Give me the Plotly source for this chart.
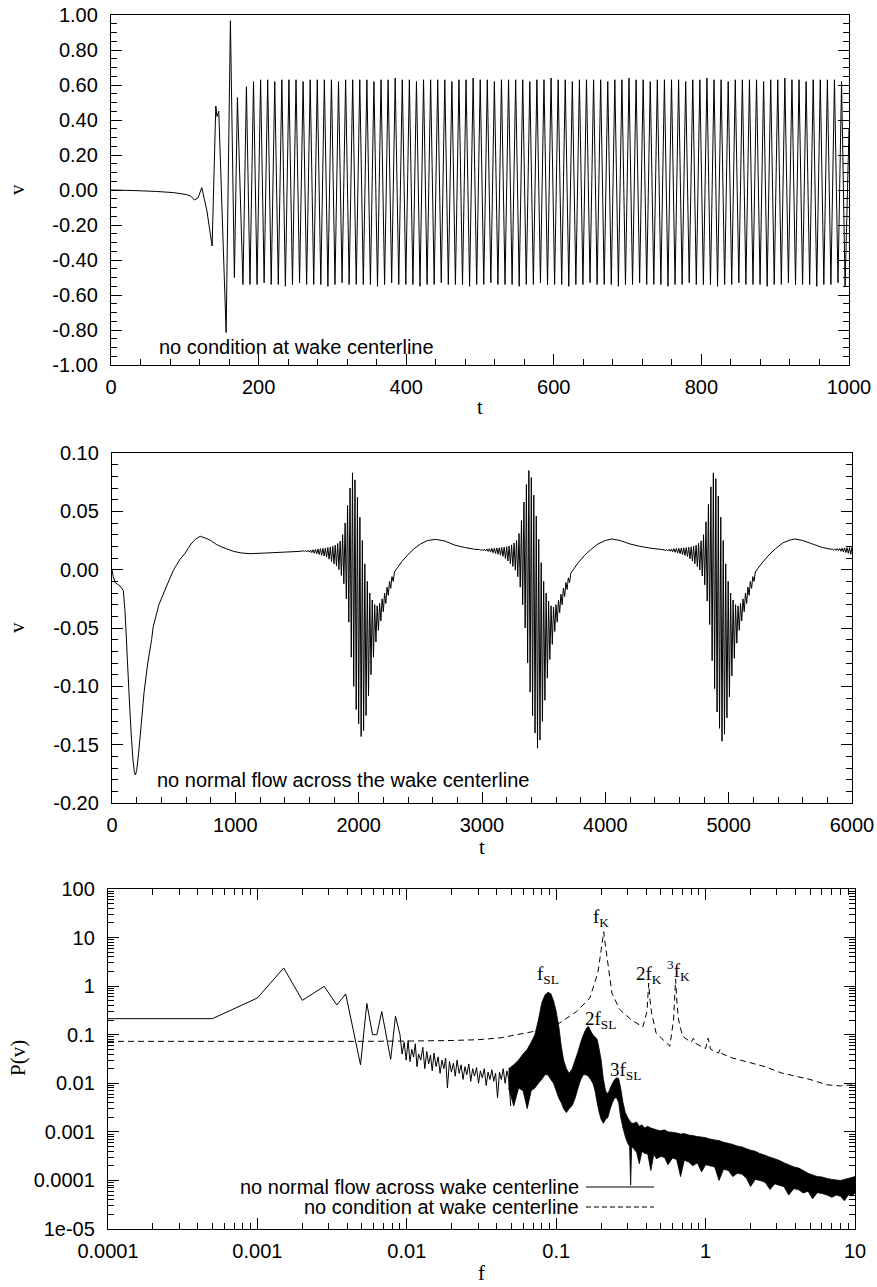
import plotly.graph_objects as go
import math

W, H = 877, 1287
SANS = "Liberation Sans, Arial, Helvetica, sans-serif"
SERIF = "Liberation Serif, Times New Roman, serif"

# ---------------- top panel: no condition at wake centerline ----------------
top_early_t = [0, 30, 60, 85, 102, 108, 113, 118, 123, 130, 137, 142, 143.6, 146, 156, 161.8, 167.2, 171.3, 178.8]
top_early_v = [0.0, -0.003, -0.008, -0.015, -0.026, -0.035, -0.057, -0.045, 0.014, -0.12, -0.32, 0.48, 0.42, 0.45,
               -0.815, 0.967, -0.50, 0.528, -0.54]
top_peak_t = [183.5, 193.1, 202.7, 212.3, 221.9, 231.5, 241.1, 250.7, 260.3, 269.9, 279.5, 289.1, 298.7, 308.3,
              317.9, 327.5, 337.1, 346.7, 356.3, 365.9, 375.5, 385.1, 394.7, 404.3, 413.9, 423.5, 433.1, 442.7,
              452.3, 461.9, 471.5, 481.1, 490.7, 500.3, 509.9, 519.5, 529.1, 538.7, 548.3, 557.9, 567.5, 577.1,
              586.7, 596.3, 605.9, 615.5, 625.1, 634.7, 644.3, 653.9, 663.5, 673.1, 682.7, 692.3, 701.9, 711.5,
              721.1, 730.7, 740.3, 749.9, 759.5, 769.1, 778.7, 788.3, 797.9, 807.5, 817.1, 826.7, 836.3, 845.9,
              855.5, 865.1, 874.7, 884.3, 893.9, 903.5, 913.1, 922.7, 932.3, 941.9, 951.5, 961.1, 970.7, 980.3,
              989.9]
top_peak_v = [0.59, 0.62, 0.63, 0.63, 0.62, 0.63, 0.63, 0.63, 0.62, 0.63, 0.63, 0.63, 0.63, 0.62, 0.63, 0.63,
              0.63, 0.63, 0.62, 0.63, 0.63, 0.64, 0.63, 0.63, 0.62, 0.63, 0.63, 0.63, 0.63, 0.62, 0.63, 0.63,
              0.64, 0.63, 0.63, 0.62, 0.63, 0.63, 0.63, 0.63, 0.62, 0.63, 0.63, 0.64, 0.63, 0.63, 0.62, 0.63,
              0.63, 0.63, 0.63, 0.62, 0.63, 0.63, 0.64, 0.63, 0.63, 0.62, 0.63, 0.63, 0.63, 0.63, 0.62, 0.63,
              0.63, 0.64, 0.63, 0.63, 0.62, 0.63, 0.63, 0.63, 0.63, 0.62, 0.63, 0.63, 0.64, 0.63, 0.63, 0.62,
              0.63, 0.63, 0.63, 0.63, 0.62]
top_trough_t = [188.3, 197.9, 207.5, 217.1, 226.7, 236.3, 245.9, 255.5, 265.1, 274.7, 284.3, 293.9, 303.5, 313.1,
                322.7, 332.3, 341.9, 351.5, 361.1, 370.7, 380.3, 389.9, 399.5, 409.1, 418.7, 428.3, 437.9, 447.5,
                457.1, 466.7, 476.3, 485.9, 495.5, 505.1, 514.7, 524.3, 533.9, 543.5, 553.1, 562.7, 572.3, 581.9,
                591.5, 601.1, 610.7, 620.3, 629.9, 639.5, 649.1, 658.7, 668.3, 677.9, 687.5, 697.1, 706.7, 716.3,
                725.9, 735.5, 745.1, 754.7, 764.3, 773.9, 783.5, 793.1, 802.7, 812.3, 821.9, 831.5, 841.1, 850.7,
                860.3, 869.9, 879.5, 889.1, 898.7, 908.3, 917.9, 927.5, 937.1, 946.7, 956.3, 965.9, 975.5, 985.1,
                994.7]
top_trough_v = [-0.54, -0.54, -0.53, -0.54, -0.54, -0.55, -0.54, -0.53, -0.54, -0.54, -0.54, -0.55, -0.54, -0.53,
                -0.54, -0.54, -0.54, -0.54, -0.55, -0.54, -0.53, -0.54, -0.54, -0.54, -0.55, -0.54, -0.54, -0.53,
                -0.54, -0.54, -0.54, -0.55, -0.54, -0.54, -0.53, -0.54, -0.54, -0.54, -0.55, -0.54, -0.54, -0.53,
                -0.54, -0.54, -0.54, -0.55, -0.54, -0.54, -0.53, -0.54, -0.54, -0.54, -0.55, -0.54, -0.54, -0.53,
                -0.54, -0.54, -0.54, -0.55, -0.54, -0.54, -0.53, -0.54, -0.54, -0.54, -0.55, -0.54, -0.54, -0.53,
                -0.54, -0.54, -0.54, -0.55, -0.54, -0.54, -0.53, -0.54, -0.54, -0.54, -0.55, -0.54, -0.54, -0.53,
                -0.55]
top_end_t = [1000]
top_end_v = [0.35]

top_pts = sorted(list(zip(top_early_t, top_early_v)) + list(zip(top_peak_t, top_peak_v))
                 + list(zip(top_trough_t, top_trough_v)) + list(zip(top_end_t, top_end_v)))
top_t = [p[0] for p in top_pts]
top_v = [p[1] for p in top_pts]

# ---------------- middle panel: no normal flow across the wake centerline ----------------
mid_a_t = [0, 10, 25, 65, 92, 105, 112, 117, 125, 140, 155, 170, 182, 190, 200, 215, 235, 260, 290, 321, 334,
           380, 443, 500, 553, 594, 640, 680, 716, 760, 800, 850, 900, 985, 1050, 1120, 1255, 1390, 1525]
mid_a_v = [0.0, -0.006, -0.011, -0.014, -0.018, -0.035, -0.049, -0.06, -0.078, -0.11, -0.14, -0.163, -0.174,
           -0.176, -0.172, -0.158, -0.135, -0.105, -0.08, -0.06, -0.049, -0.03, -0.014, 0.0, 0.009, 0.0143, 0.022,
           0.0265, 0.0286, 0.027, 0.025, 0.0214, 0.019, 0.0157, 0.0143, 0.0137, 0.0143, 0.015, 0.0157]

mid_step = 10  # sample spacing of the burst extrema
mid_b1_t0 = 1550
mid_b1_v = [0.0162, 0.0155, 0.0164, 0.0153, 0.0166, 0.0150, 0.0168, 0.0146, 0.0171, 0.0141, 0.0174, 0.0136,
            0.0177, 0.0130, 0.0180, 0.0124, 0.0183, 0.0117, 0.0186, 0.0108,
            0.0190, 0.0090, 0.0194, 0.0070, 0.0200, 0.0050, 0.0210, 0.0030, 0.0225, 0.0000, 0.0245, -0.0050,
            0.030, -0.012, 0.040, -0.025, 0.055, -0.045, 0.070, -0.075,
            0.083, -0.100, 0.077, -0.120, 0.062, -0.132, 0.045, -0.143, 0.025, -0.138, 0.005, -0.125, -0.010,
            -0.108, -0.020, -0.090, -0.026, -0.075, -0.030, -0.062, -0.031, -0.052, -0.029, -0.044, -0.025,
            -0.036, -0.020, -0.029, -0.015, -0.022, -0.010, -0.016, -0.006, -0.010, -0.002]
mid_b_t = [2310, 2350, 2400, 2450, 2500, 2560, 2625, 2700, 2780, 2860, 2940]
mid_b_v = [0.001, 0.007, 0.013, 0.018, 0.022, 0.025, 0.026, 0.0245, 0.021, 0.019, 0.0175]
mid_b2_t0 = 2980
mid_b2_v = [0.0172, 0.0166, 0.0174, 0.0163, 0.0176, 0.0160, 0.0178, 0.0156, 0.0180, 0.0151, 0.0182, 0.0145,
            0.0184, 0.0139, 0.0186, 0.0132, 0.0188, 0.0124, 0.0190, 0.0114,
            0.0193, 0.0095, 0.0197, 0.0075, 0.0203, 0.0052, 0.0212, 0.0028, 0.0228, -0.0005, 0.0250, -0.0060,
            0.031, -0.015, 0.042, -0.030, 0.058, -0.050, 0.073, -0.080,
            0.085, -0.105, 0.079, -0.125, 0.064, -0.140, 0.046, -0.153, 0.026, -0.146, 0.006, -0.130, -0.010,
            -0.112, -0.020, -0.093, -0.027, -0.077, -0.031, -0.064, -0.032, -0.053, -0.030, -0.045, -0.026,
            -0.037, -0.021, -0.030, -0.016, -0.023, -0.011, -0.017, -0.007, -0.011, -0.003]
mid_c_t = [3740, 3780, 3830, 3880, 3940, 4000, 4052, 4120, 4200, 4280, 4360, 4440]
mid_c_v = [0.0, 0.006, 0.012, 0.017, 0.022, 0.025, 0.0263, 0.025, 0.022, 0.020, 0.0185, 0.0175]
mid_b3_t0 = 4476
mid_b3_v = [0.0170, 0.0164, 0.0172, 0.0161, 0.0175, 0.0158, 0.0177, 0.0154, 0.0179, 0.0149, 0.0181, 0.0143,
            0.0183, 0.0137, 0.0185, 0.0130, 0.0187, 0.0122, 0.0189, 0.0112,
            0.0192, 0.0093, 0.0196, 0.0073, 0.0202, 0.0051, 0.0211, 0.0027, 0.0226, -0.0003, 0.0247, -0.0055,
            0.030, -0.013, 0.041, -0.027, 0.056, -0.047, 0.071, -0.078,
            0.083, -0.102, 0.078, -0.122, 0.063, -0.136, 0.045, -0.147, 0.025, -0.141, 0.005, -0.127, -0.010,
            -0.109, -0.020, -0.091, -0.026, -0.076, -0.030, -0.063, -0.031, -0.052, -0.029, -0.044, -0.025,
            -0.036, -0.020, -0.029, -0.015, -0.022, -0.010, -0.016, -0.006, -0.010, -0.002]
mid_d_t = [5236, 5280, 5330, 5380, 5440, 5500, 5538, 5600, 5680, 5760, 5830]
mid_d_v = [0.001, 0.007, 0.013, 0.018, 0.023, 0.0255, 0.0263, 0.025, 0.022, 0.019, 0.0175]
mid_tail_t0 = 5840
mid_tail_v = [0.0176, 0.0168, 0.0178, 0.0165, 0.0180, 0.0162, 0.0182, 0.0158, 0.0184, 0.0153, 0.0186, 0.0147,
              0.0188, 0.0140, 0.0190, 0.0132, 0.0192]


def sampled(t0, vals):
    return [t0 + i * mid_step for i in range(len(vals))]


mid_t = (mid_a_t + sampled(mid_b1_t0, mid_b1_v) + mid_b_t + sampled(mid_b2_t0, mid_b2_v) + mid_c_t
         + sampled(mid_b3_t0, mid_b3_v) + mid_d_t + sampled(mid_tail_t0, mid_tail_v))
mid_v = mid_a_v + mid_b1_v + mid_b_v + mid_b2_v + mid_c_v + mid_b3_v + mid_d_v + mid_tail_v

# ---------------- bottom panel: spectra ----------------
dash_f = [1e-4, 0.001, 0.005, 0.01, 0.02, 0.03, 0.042, 0.07, 0.1055, 0.137, 0.168, 0.19, 0.2, 0.205, 0.208,
          0.212, 0.217, 0.236, 0.266, 0.32, 0.38, 0.405, 0.416, 0.425, 0.435, 0.466, 0.576, 0.61, 0.63, 0.645,
          0.66, 0.7, 0.8, 0.83, 0.86, 1.0, 1.04, 1.08, 1.22, 1.25, 1.28, 1.52, 2.5, 3.2, 5.0, 6.5, 8.0, 9.0, 10.0]
dash_P = [0.073, 0.073, 0.073, 0.074, 0.076, 0.079, 0.086, 0.116, 0.175, 0.30, 0.57, 1.87, 5.6, 9.5, 13.2,
          8.0, 4.8, 0.72, 0.33, 0.2, 0.144, 0.3, 1.15, 0.5, 0.28, 0.109, 0.058, 0.2, 1.39, 0.4, 0.2, 0.093,
          0.07, 0.085, 0.066, 0.052, 0.085, 0.05, 0.042, 0.05, 0.041, 0.033, 0.022, 0.0164, 0.012, 0.0093,
          0.0088, 0.0092, 0.0092]

sol_f = [1e-4, 0.0005, 0.001, 0.0015, 0.002, 0.0028, 0.0034, 0.0039, 0.0049, 0.0054, 0.0059, 0.0063, 0.0068,
         0.0078, 0.0084,
         0.0090, 0.0093, 0.0096, 0.0099, 0.0102, 0.0105, 0.0108, 0.0111, 0.0114, 0.0117, 0.0120, 0.0124, 0.0128,
         0.0132, 0.0136, 0.0140, 0.0144, 0.0148, 0.0152, 0.0157, 0.0162, 0.0167, 0.0172, 0.0177, 0.0182, 0.0187,
         0.0193, 0.0199, 0.0205, 0.0211, 0.0217, 0.0224, 0.0231, 0.0238, 0.0245, 0.0252, 0.0260, 0.0268, 0.0276,
         0.0284, 0.0293, 0.0302, 0.0311, 0.0320, 0.0330, 0.0340, 0.0350, 0.0360, 0.0371, 0.0382, 0.0393, 0.0405,
         0.0417, 0.0429, 0.0442, 0.0455, 0.0468, 0.0482, 0.0496]
sol_P = [0.214, 0.214, 0.57, 2.37, 0.51, 0.99, 0.41, 0.69, 0.024, 0.44, 0.1, 0.1, 0.30, 0.031, 0.24,
         0.1, 0.04, 0.07, 0.03, 0.075, 0.028, 0.05, 0.035, 0.065, 0.022, 0.04, 0.03, 0.055, 0.02, 0.045, 0.025,
         0.038, 0.018, 0.042, 0.022, 0.035, 0.016, 0.03, 0.02, 0.033, 0.008, 0.028, 0.017, 0.026, 0.014, 0.03,
         0.016, 0.024, 0.012, 0.022, 0.015, 0.025, 0.011, 0.02, 0.014, 0.021, 0.01, 0.018, 0.013, 0.02, 0.009,
         0.017, 0.012, 0.019, 0.011, 0.016, 0.005, 0.017, 0.012, 0.02, 0.01, 0.018, 0.012, 0.0034]

band_f = [0.048, 0.052, 0.056, 0.06, 0.064, 0.068, 0.072, 0.076, 0.08, 0.084, 0.088, 0.092, 0.096, 0.1, 0.104,
          0.108, 0.112, 0.117, 0.122, 0.128, 0.134, 0.14, 0.146, 0.152, 0.158, 0.164, 0.17, 0.176, 0.182, 0.188,
          0.194, 0.2, 0.207, 0.214, 0.222, 0.23, 0.238, 0.246, 0.254, 0.262, 0.27, 0.28, 0.29, 0.3, 0.31, 0.315,
          0.32, 0.33, 0.345, 0.36, 0.375, 0.39, 0.41, 0.43, 0.45, 0.47, 0.5, 0.53, 0.56, 0.6, 0.64, 0.68, 0.72,
          0.77, 0.82, 0.88, 0.94, 1.0, 1.07, 1.15, 1.23, 1.32, 1.42, 1.52, 1.63, 1.75, 1.88, 2.0, 2.15, 2.3, 2.5,
          2.7, 2.9, 3.1, 3.35, 3.6, 3.9, 4.2, 4.5, 4.85, 5.2, 5.6, 6.0, 6.5, 7.0, 7.5, 8.0, 8.5, 9.0, 9.5, 10.0]
band_hi = [0.02, 0.024, 0.03, 0.04, 0.05, 0.07, 0.1, 0.2, 0.45, 0.65, 0.75, 0.7, 0.5, 0.3, 0.15, 0.06, 0.03,
           0.02, 0.016, 0.02, 0.03, 0.045, 0.07, 0.1, 0.13, 0.15, 0.12, 0.1, 0.09, 0.08, 0.05, 0.03, 0.012, 0.007,
           0.006, 0.008, 0.01, 0.012, 0.013, 0.0125, 0.008, 0.004, 0.0025, 0.002, 0.0017, 0.0016, 0.0015,
           0.0015, 0.0016, 0.0013, 0.0014, 0.0012, 0.0013, 0.0012, 0.00115, 0.0011, 0.00105, 0.0011, 0.001,
           0.00098, 0.00095, 0.0009, 0.00092, 0.00086, 0.00084, 0.0008, 0.00078, 0.00076, 0.00071, 0.00068,
           0.00066, 0.00061, 0.00058, 0.00055, 0.00051, 0.00049, 0.00045, 0.00042, 0.0004, 0.00036, 0.00033,
           0.0003, 0.00028, 0.00026, 0.00023, 0.00021, 0.00019, 0.00018, 0.00016, 0.00014, 0.00013, 0.00012,
           0.000118, 0.00011, 0.000105, 0.000102, 0.0001, 0.000105, 0.00011, 0.000115, 0.00012]
band_lo = [0.008, 0.0034, 0.008, 0.007, 0.003, 0.007, 0.008, 0.01, 0.012, 0.015, 0.015, 0.012, 0.01, 0.007,
           0.005, 0.004, 0.003, 0.0025, 0.003, 0.0035, 0.005, 0.008, 0.012, 0.015, 0.015, 0.014, 0.012, 0.01,
           0.007, 0.004, 0.0025, 0.0018, 0.0015, 0.0018, 0.002, 0.003, 0.004, 0.005, 0.005, 0.004, 0.002, 0.0012,
           0.0008, 0.0006, 0.0005, 0.00008, 0.0005,
           0.00045, 0.00038, 0.00022, 0.0004, 0.00036, 0.00035, 0.00016, 0.00034, 0.00028, 0.00031, 0.0003,
           0.00021, 0.00029, 0.00027, 0.00012, 0.00026, 0.00024, 0.0002, 0.00023, 0.00015, 0.00021, 0.0002,
           0.00019, 0.0001, 0.00017, 0.00016, 0.00012, 0.00014, 0.000135, 0.00011, 0.000075, 0.000105, 0.0001,
           0.000092, 0.000065, 0.000085, 0.00008, 0.000074, 0.00005, 0.000068, 0.000064, 0.000055, 0.00006,
           0.000042, 0.000056, 0.000054, 0.00005, 0.000045, 0.00005, 0.000047, 0.000038, 0.00005, 0.000048,
           0.000055]

# ---------------- figure ----------------
fig = go.Figure()
fig.add_trace(go.Scatter(x=top_t, y=top_v, mode="lines", line=dict(color="black", width=1, simplify=False),
                         xaxis="x", yaxis="y", showlegend=False, name="no condition at wake centerline"))
fig.add_trace(go.Scatter(x=mid_t, y=mid_v, mode="lines", line=dict(color="black", width=1, simplify=False),
                         xaxis="x2", yaxis="y2", showlegend=False,
                         name="no normal flow across the wake centerline"))
fig.add_trace(go.Scatter(x=dash_f, y=dash_P, mode="lines",
                         line=dict(color="black", width=1, dash="6px,4px", simplify=False),
                         xaxis="x3", yaxis="y3", showlegend=False, name="no condition at wake centerline"))
fig.add_trace(go.Scatter(x=sol_f, y=sol_P, mode="lines", line=dict(color="black", width=1, simplify=False),
                         xaxis="x3", yaxis="y3", showlegend=False, name="no normal flow across wake centerline"))
fig.add_trace(go.Scatter(x=band_f + band_f[::-1], y=band_hi + band_lo[::-1], mode="lines", fill="toself",
                         fillcolor="black", line=dict(color="black", width=0.8, simplify=False),
                         xaxis="x3", yaxis="y3", showlegend=False, name="no normal flow across wake centerline"))

tickfont = dict(family=SANS, size=20, color="black")
base = dict(showgrid=False, zeroline=False, showline=True, linecolor="black", linewidth=1.3, ticks="inside",
            tickcolor="black", tickwidth=1.2, ticklen=11, tickfont=tickfont, automargin=False)


def fmt2(v):
    return f"{v:.2f}"


top_xt = [0, 200, 400, 600, 800, 1000]
top_yt = [1.0, 0.8, 0.6, 0.4, 0.2, 0.0, -0.2, -0.4, -0.6, -0.8, -1.0]
mid_xt = [0, 1000, 2000, 3000, 4000, 5000, 6000]
mid_yt = [0.10, 0.05, 0.0, -0.05, -0.10, -0.15, -0.20]
bot_xt = [1e-4, 1e-3, 1e-2, 0.1, 1, 10]
bot_xl = ["0.0001", "0.001", "0.01", "0.1", "1", "10"]
bot_yt = [100, 10, 1, 0.1, 0.01, 0.001, 1e-4, 1e-5]
bot_yl = ["100", "10", "1", "0.1", "0.01", "0.001", "0.0001", "1e-05"]
bot_xminor = [m * 10 ** e for e in range(-4, 1) for m in range(2, 10)]
bot_yminor = [m * 10 ** e for e in range(-5, 2) for m in range(2, 10)]

minor_lin = dict(ticks="inside", ticklen=6, tickcolor="black", tickwidth=1, showgrid=False)

fig.update_layout(
    width=W, height=H, margin=dict(l=0, r=0, t=0, b=0, pad=0),
    paper_bgcolor="white", plot_bgcolor="white", showlegend=False,
    xaxis=dict(base, domain=[111 / W, 849 / W], range=[0, 1000], tickmode="array", tickvals=top_xt,
               ticktext=[str(v) for v in top_xt], mirror=True, anchor="y", ticklabelstandoff=4,
               minor=dict(minor_lin, tickmode="linear", tick0=0, dtick=40)),
    yaxis=dict(base, domain=[1 - 365 / H, 1 - 15 / H], range=[-1, 1], tickmode="array", tickvals=top_yt,
               ticktext=[fmt2(v) for v in top_yt], mirror="ticks", anchor="x", ticklabelstandoff=8,
               minor=dict(minor_lin, tickmode="linear", tick0=0, dtick=0.05)),
    xaxis2=dict(base, domain=[112 / W, 852 / W], range=[0, 6000], tickmode="array", tickvals=mid_xt,
                ticktext=[str(v) for v in mid_xt], mirror=True, anchor="y2", ticklabelstandoff=4,
                minor=dict(minor_lin, tickmode="linear", tick0=0, dtick=200)),
    yaxis2=dict(base, domain=[1 - 803 / H, 1 - 453 / H], range=[-0.2, 0.1], tickmode="array", tickvals=mid_yt,
                ticktext=[fmt2(v) for v in mid_yt], mirror="ticks", anchor="x2", ticklabelstandoff=8,
                minor=dict(minor_lin, tickmode="linear", tick0=0, dtick=0.01)),
    xaxis3=dict(base, type="log", domain=[108 / W, 855 / W], range=[-4, 1], tickmode="array", tickvals=bot_xt,
                ticktext=bot_xl, mirror="ticks", anchor="y3", ticklabelstandoff=4,
                minor=dict(minor_lin, tickmode="array", tickvals=bot_xminor)),
    yaxis3=dict(base, type="log", domain=[1 - 1229 / H, 1 - 889 / H], range=[-5, 2], tickmode="array",
                tickvals=bot_yt, ticktext=bot_yl, mirror="ticks", anchor="x3", ticklabelstandoff=8,
                minor=dict(minor_lin, tickmode="array", tickvals=bot_yminor)),
)

ann = []
titlefont = dict(family=SERIF, size=21, color="black")
textfont = dict(family=SANS, size=20, color="black")
labfont = dict(family=SERIF, size=19, color="black")


def paper(x, y, text, font, **kw):
    d = dict(x=x / W, y=1 - y / H, xref="paper", yref="paper", text=text, showarrow=False, font=font,
             xanchor="center", yanchor="middle")
    d.update(kw)
    ann.append(d)


paper(17, 190, "v", titlefont, textangle=-90)
paper(480, 407, "t", titlefont)
paper(17, 628, "v", titlefont, textangle=-90)
paper(482, 847, "t", titlefont)
paper(18, 1058, "P(v)", titlefont, textangle=-90)
paper(481, 1273, "f", titlefont)

paper(157, 347, "no condition at wake centerline", textfont, xanchor="left")
paper(155, 780, "no normal flow across the wake centerline", textfont, xanchor="left")

# spectral peak labels (data coordinates of the log panel)
peak_labels = [("f<sub>K</sub>", 0.2, 25.0), ("f<sub>SL</sub>", 0.0877, 1.72), ("2f<sub>K</sub>", 0.42, 1.72),
               ("<sup>3</sup>f<sub>K</sub>", 0.66, 2.1), ("2f<sub>SL</sub>", 0.199, 0.205),
               ("3f<sub>SL</sub>", 0.29, 0.0175)]
for txt, fx, py in peak_labels:
    ann.append(dict(x=math.log10(fx), y=math.log10(py), xref="x3", yref="y3", text=txt, showarrow=False,
                    font=labfont, xanchor="center", yanchor="middle"))

# legend (text left, sample right, as in the original)
paper(581, 1187, "no normal flow across wake centerline", textfont, xanchor="right")
paper(581, 1207, "no condition at wake centerline", textfont, xanchor="right")
fig.update_layout(annotations=ann)
fig.add_shape(type="line", xref="paper", yref="paper", x0=586 / W, x1=654 / W, y0=1 - 1187 / H, y1=1 - 1187 / H,
              line=dict(color="black", width=1))
fig.add_shape(type="line", xref="paper", yref="paper", x0=586 / W, x1=654 / W, y0=1 - 1207 / H, y1=1 - 1207 / H,
              line=dict(color="black", width=1, dash="5px,3px"))

fig.write_html("out.html")
